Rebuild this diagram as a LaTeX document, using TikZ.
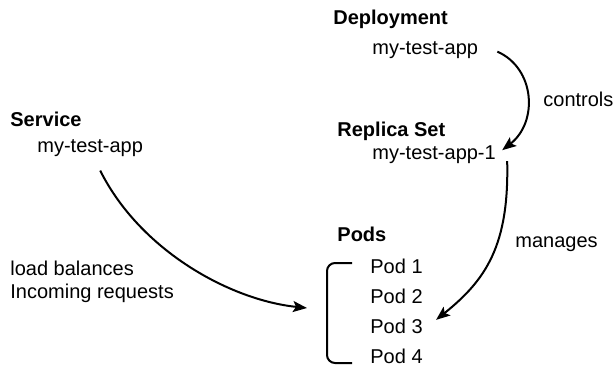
\documentclass[tikz,border=0pt]{standalone}
\usepackage{fontspec}
\setmainfont{Liberation Sans}
\usetikzlibrary{arrows.meta,calc,positioning}

\begin{document}
\begin{tikzpicture}
	[x=0.5pt,y=-0.5pt,font=\fontsize{10}{12}\selectfont,
	every node/.style={anchor=base west,inner sep=0pt},
	head/.style={font=\fontsize{10}{12}\selectfont\bfseries},
	flow/.style={line width=1pt,-{Stealth[length=7pt,width=5.5pt,inset=1.5pt]}}]
	\useasboundingbox (0,0) rectangle (613,368);
	\node[head] (dep) at (333,25) {Deployment};
	\node (depapp) at (372,55) {my-test-app};
	\node[head] (rs) at (337,137) {Replica Set};
	\node (rsapp) at (372,160) {my-test-app-1};
	\node[head] (svc) at (10,127) {Service};
	\node (svcapp) at (37,153) {my-test-app};
	\node[head] (pods) at (337,242) {Pods};
	\foreach \i/\y in {1/273,2/303,3/333,4/363}
		\node (pod\i) at (370,\y) {Pod \i};
	\node (ctl) at (543,107) {controls};
	\node (mng) at (515,247) {manages};
	\node (lb1) at (10,275) {load balances};
	\node (lb2) at (10,298) {Incoming requests};
	% bracket round the pods
	\draw[line width=1pt,rounded corners=4pt] (352,263) -| (327,363) -- (352,363);
	\coordinate (brk) at (327,313);
	\draw[flow] ($(depapp.east)+(19,1)$) .. controls +(38,17) and +(36,-28) .. ($(rsapp.east)+(6,-5)$);
	\draw[flow] ($(rsapp.east)+(11,6)$) .. controls +(2,84) and +(50,-40) .. ($(pod3.east)+(13,-6)$);
	\draw[flow] ($(svcapp.south)+(10,13)$) .. controls +(40,80) and +(-77,-8) .. ($(brk)+(-20,-5)$);
\end{tikzpicture}
\end{document}
